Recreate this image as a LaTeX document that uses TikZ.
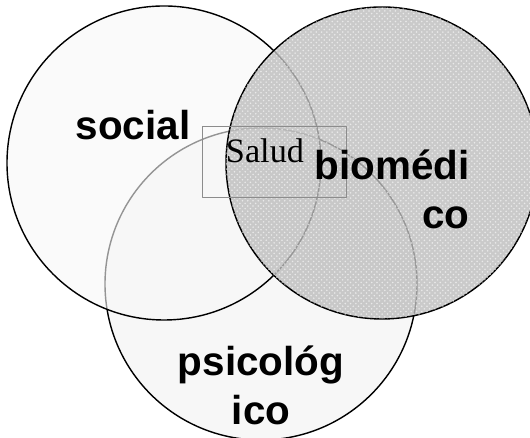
\documentclass[tikz,border=0pt]{standalone}
\usepackage{fontspec}
\setmainfont{Liberation Serif}
\setsansfont{Liberation Sans}
\usetikzlibrary{patterns}
\begin{document}
\begin{tikzpicture}[line join=round, line cap=round,
	lbl/.style={font=\sffamily\bfseries\fontsize{23pt}{27.5pt}\selectfont, inner sep=0pt}]
	\useasboundingbox (0,0) rectangle (10.6,8.76);
	\path
	(3.28,5.50)coordinate(S)
	(7.64,5.50)coordinate(B)
	(5.22,3.08)coordinate(P)
	;
	% psicologico abajo, luego social, luego biomedico
	\draw[line width=0.8pt, fill=black!3] (P) circle(3.12);
	\draw[line width=0.8pt, fill=black!3, fill opacity=0.6] (S) circle(3.14);
	\draw[line width=0.8pt, fill=black!26, fill opacity=0.8] (B) circle(3.12);
	\fill[pattern=crosshatch dots, pattern color=white, fill opacity=0.6] (B) circle(3.12);
	\draw[black!45, line width=0.4pt] (4.04,4.82) rectangle (6.92,6.24);
	\node[font=\fontsize{19.5pt}{22pt}\selectfont, anchor=base, inner sep=0pt] (salud) at (5.30,5.50) {Salud};
	\node[lbl, anchor=base] (social) at (2.66,5.96) {social};
	\node[lbl, anchor=north east, align=right] (bio) at (9.40,5.76) {biomédi\\co};
	\node[lbl, anchor=north, align=center] (psico) at (5.22,1.84) {psicológ\\ico};
\end{tikzpicture}
\end{document}
